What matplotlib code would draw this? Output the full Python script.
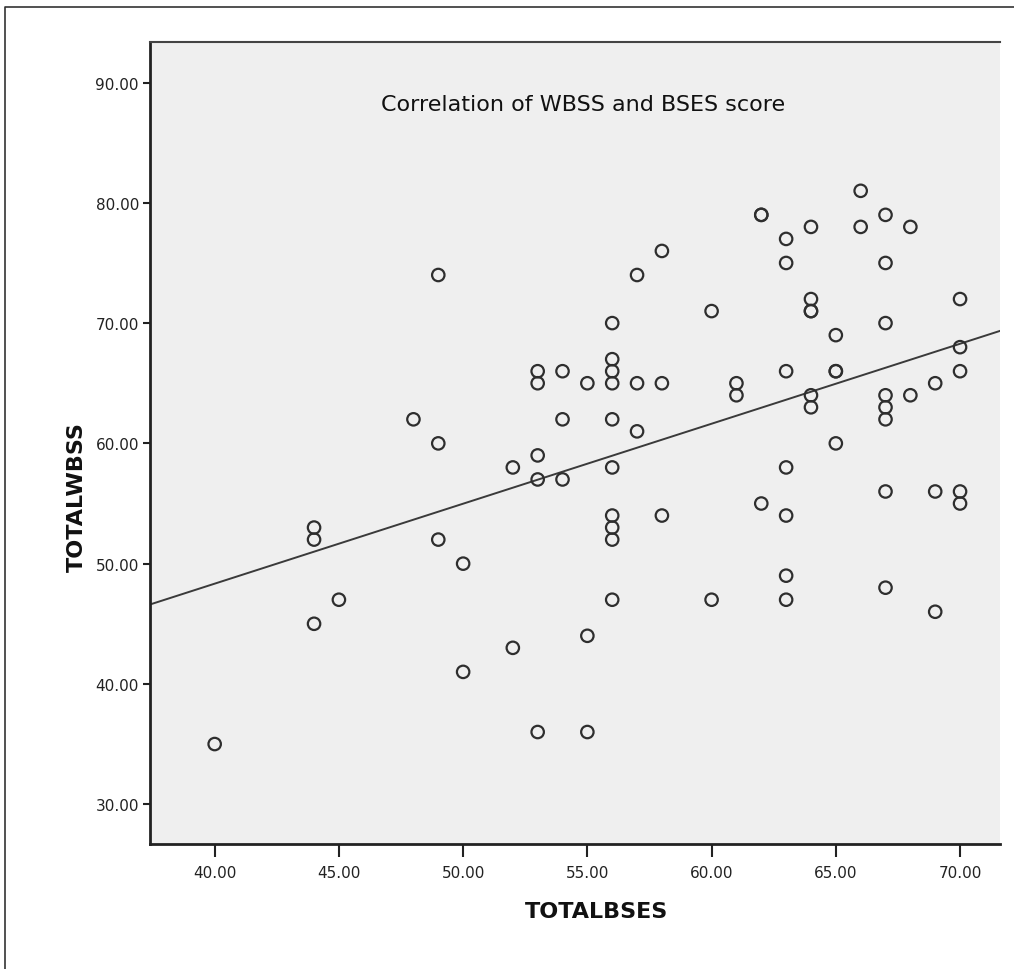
import matplotlib
matplotlib.use("Agg")
import matplotlib.pyplot as plt
from matplotlib.lines import Line2D
from matplotlib.ticker import FormatStrFormatter
import numpy as np

# TOTALBSES scores (x) and matching TOTALWBSS scores (y)
bses = [
    40,
    44, 44, 44,
    45,
    48,
    49, 49, 49,
    50, 50,
    52, 52,
    53, 53, 53, 53, 53,
    54, 54, 54,
    55, 55, 55,
    56, 56, 56, 56, 56, 56, 56, 56, 56, 56,
    57, 57, 57,
    58, 58, 58,
    60, 60,
    61, 61,
    62, 62, 62,
    63, 63, 63, 63, 63, 63, 63,
    64, 64, 64, 64, 64, 64,
    65, 65, 65, 65,
    66, 66,
    67, 67, 67, 67, 67, 67, 67, 67,
    68, 68,
    69, 69, 69,
    70, 70, 70, 70, 70,
]
wbss = [
    35,
    53, 52, 45,
    47,
    62,
    74, 60, 52,
    50, 41,
    58, 43,
    66, 65, 59, 57, 36,
    66, 62, 57,
    65, 44, 36,
    70, 67, 66, 65, 62, 58, 54, 53, 52, 47,
    74, 65, 61,
    76, 65, 54,
    71, 47,
    65, 64,
    79, 79, 55,
    77, 75, 66, 58, 54, 49, 47,
    78, 72, 71, 71, 64, 63,
    69, 66, 66, 60,
    81, 78,
    79, 75, 70, 64, 63, 62, 56, 48,
    78, 64,
    65, 56, 46,
    72, 68, 66, 56, 55,
]

x_ticks = [40, 45, 50, 55, 60, 65, 70]
y_ticks = [30, 40, 50, 60, 70, 80, 90]
title = "Correlation of WBSS and BSES score"

fig = plt.figure(figsize=(10.14, 9.70), dpi=100)
ax = fig.add_axes([0.148, 0.129, 0.838, 0.827])
ax.set_facecolor("#efefef")

ax.scatter(bses, wbss, s=80, facecolors="none", edgecolors="#2e2e2e",
           linewidths=1.6, zorder=3)

# linear fit line across the whole plot
slope, intercept = np.polyfit(bses, wbss, 1)
ax.axline((0, intercept), slope=slope, color="#3a3a3a", linewidth=1.4, zorder=2)

ax.set_xlim(37.4, 71.6)
ax.set_ylim(26.7, 93.4)
ax.set_xticks(x_ticks)
ax.set_yticks(y_ticks)
ax.xaxis.set_major_formatter(FormatStrFormatter("%.2f"))
ax.yaxis.set_major_formatter(FormatStrFormatter("%.2f"))
ax.tick_params(axis="x", direction="out", length=9, width=1.5,
               labelsize=11, colors="#222222", pad=6)
ax.tick_params(axis="y", direction="out", length=5, width=1.5,
               labelsize=11, colors="#222222", pad=3)

for side in ["left", "bottom"]:
    ax.spines[side].set_linewidth(2)
    ax.spines[side].set_color("#222222")
ax.spines["top"].set_linewidth(1.5)
ax.spines["top"].set_color("#444444")
ax.spines["right"].set_visible(False)

ax.set_xlabel("TOTALBSES", fontsize=16, fontweight="bold", color="#111111")
ax.set_ylabel("TOTALWBSS", fontsize=16, fontweight="bold", color="#111111")
ax.xaxis.set_label_coords(0.525, -0.071)
ax.yaxis.set_label_coords(-0.074, 0.433)

ax.text(0.51, 0.922, title, transform=ax.transAxes, ha="center", va="center",
        fontsize=16, color="#111111")

# outer frame of the figure panel
fig.add_artist(Line2D([5 / 1014, 5 / 1014, 1.0], [0.0, 1 - 8 / 970, 1 - 8 / 970],
                      transform=fig.transFigure, color="#333333", linewidth=1.2))

fig.savefig("out.png", dpi=100)
